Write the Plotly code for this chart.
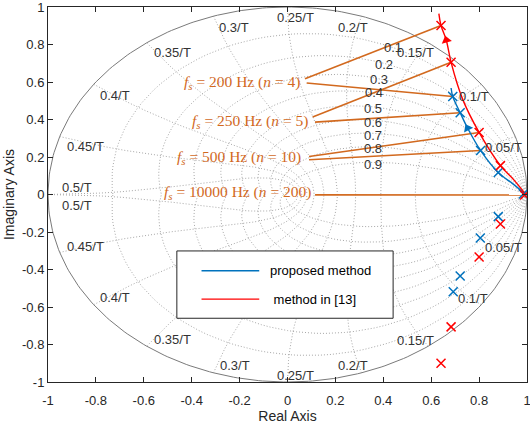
import numpy as np
import plotly.graph_objects as go

# ---------------- data ----------------
# pole markers (proposed method, blue) : n = 4, 5, 10, ..., 200 and conjugates
prop_re = [0.690, 0.721, 0.806, 0.880, 0.985, 0.880, 0.805, 0.721, 0.692]
prop_im = [0.523, 0.436, 0.235, 0.117, 0.003, -0.118, -0.232, -0.435, -0.519]
# pole markers (method in [13], red)
ref_re = [0.641, 0.683, 0.800, 0.889, 0.990, 0.889, 0.800, 0.683, 0.641]
ref_im = [0.901, 0.705, 0.331, 0.154, -0.003, -0.157, -0.333, -0.706, -0.900]

# locus curves (upper half)
prop_locus_re = [0.995, 0.940, 0.880, 0.806, 0.752, 0.721, 0.690, 0.683]
prop_locus_im = [0.000, 0.058, 0.117, 0.235, 0.354, 0.436, 0.523, 0.568]
ref_locus_re = [0.995, 0.945, 0.889, 0.800, 0.732, 0.683, 0.663, 0.641, 0.632]
ref_locus_im = [0.000, 0.078, 0.154, 0.331, 0.506, 0.705, 0.823, 0.901, 0.965]

# direction arrows on the loci
arrow_prop = (0.752, 0.354, -28)
arrow_ref = (0.663, 0.823, -14)

# z-plane grid (zgrid) parameters
zeta_vals = [0.1, 0.2, 0.3, 0.4, 0.5, 0.6, 0.7, 0.8, 0.9]
wn_fracs = [0.05, 0.10, 0.15, 0.20, 0.25, 0.30, 0.35, 0.40, 0.45, 0.50]

# zgrid label positions
zeta_lbl_x = [0.394, 0.357, 0.337, 0.316, 0.311, 0.311, 0.311, 0.311, 0.311]
zeta_lbl_y = [0.784, 0.693, 0.612, 0.543, 0.457, 0.383, 0.313, 0.244, 0.158]
wn_lbl_up_x = [0.817, 0.707, 0.450, 0.202, -0.052, -0.296, -0.566, -0.792, -0.930, -0.951]
wn_lbl_up_y = [0.249, 0.522, 0.757, 0.890, 0.944, 0.890, 0.757, 0.527, 0.254, 0.040]
wn_lbl_lo_x = [0.817, 0.705, 0.450, 0.203, -0.052, -0.291, -0.566, -0.792, -0.930, -0.951]
wn_lbl_lo_y = [-0.280, -0.553, -0.777, -0.910, -0.964, -0.910, -0.772, -0.547, -0.275, -0.061]

# sampling-rate annotations
fs_labels = [
    "<i>f</i><sub><i>s</i></sub> = 200 Hz (<i>n</i> = 4)",
    "<i>f</i><sub><i>s</i></sub> = 250 Hz (<i>n</i> = 5)",
    "<i>f</i><sub><i>s</i></sub> = 500 Hz (<i>n</i> = 10)",
    "<i>f</i><sub><i>s</i></sub> = 10000 Hz (<i>n</i> = 200)",
]
fs_text_x = [0.061, 0.094, 0.065, 0.107]
fs_text_y = [0.596, 0.388, 0.196, 0.012]
fs_pole_idx = [0, 1, 2, 4]
lead_ref_x0 = [0.073, 0.105, 0.090, 0.115]
lead_ref_y0 = [0.618, 0.413, 0.203, -0.002]
lead_prop_x0 = [0.080, 0.115, 0.090, 0.115]
lead_prop_y0 = [0.595, 0.386, 0.185, -0.002]

x_ticks = [-1, -0.8, -0.6, -0.4, -0.2, 0, 0.2, 0.4, 0.6, 0.8, 1]
y_ticks = [-1, -0.8, -0.6, -0.4, -0.2, 0, 0.2, 0.4, 0.6, 0.8, 1]

BLUE = "#0072BD"
RED = "#FF0000"
ORANGE = "#D2691E"
GRID = "#a8a8a8"

def fmt(v):
    return "%g" % v

fig = go.Figure()

# ---------------- zgrid dotted curves ----------------
gx, gy = [], []
theta = np.linspace(0, np.pi, 61)
for z in zeta_vals:
    m = z / np.sqrt(1 - z * z)
    zz = np.exp(theta * (-m + 1j))
    for c in (zz, np.conj(zz)):
        gx += list(c.real) + [None]
        gy += list(c.imag) + [None]
phi = np.linspace(np.pi / 2, np.pi, 41)
for f in wn_fracs:
    wnT = 2 * np.pi * f
    zz = np.exp(wnT * np.exp(1j * phi))
    for c in (zz, np.conj(zz)):
        gx += list(c.real) + [None]
        gy += list(c.imag) + [None]
fig.add_trace(go.Scatter(x=gx, y=gy, mode="lines", hoverinfo="skip",
                         line=dict(color=GRID, width=1, dash="1px,2px")))

# unit circle
tc = np.linspace(0, 2 * np.pi, 361)
fig.add_trace(go.Scatter(x=np.cos(tc), y=np.sin(tc), mode="lines", hoverinfo="skip",
                         line=dict(color="#7a7a7a", width=1)))

# ---------------- leader lines ----------------
lx, ly = [], []
for i, k in enumerate(fs_pole_idx):
    lx += [lead_ref_x0[i], ref_re[k], None]
    ly += [lead_ref_y0[i], ref_im[k], None]
    if i < 3:
        lx += [lead_prop_x0[i], prop_re[k], None]
        ly += [lead_prop_y0[i], prop_im[k], None]
fig.add_trace(go.Scatter(x=lx, y=ly, mode="lines", hoverinfo="skip",
                         line=dict(color=ORANGE, width=1.6)))

# ---------------- loci ----------------
fig.add_trace(go.Scatter(x=prop_locus_re, y=prop_locus_im, mode="lines",
                         line=dict(color=BLUE, width=1.4, shape="spline"), name="proposed method"))
fig.add_trace(go.Scatter(x=ref_locus_re, y=ref_locus_im, mode="lines",
                         line=dict(color=RED, width=1.4, shape="spline"), name="method in [13]"))
fig.add_trace(go.Scatter(x=[arrow_prop[0]], y=[arrow_prop[1]], mode="markers", hoverinfo="skip",
                         marker=dict(symbol="triangle-up", size=9, color=BLUE, angle=arrow_prop[2])))
fig.add_trace(go.Scatter(x=[arrow_ref[0]], y=[arrow_ref[1]], mode="markers", hoverinfo="skip",
                         marker=dict(symbol="triangle-up", size=9, color=RED, angle=arrow_ref[2])))

# ---------------- pole markers ----------------
fig.add_trace(go.Scatter(x=prop_re, y=prop_im, mode="markers",
                         marker=dict(symbol="x-thin", size=9, line=dict(color=BLUE, width=1.5))))
fig.add_trace(go.Scatter(x=ref_re, y=ref_im, mode="markers",
                         marker=dict(symbol="x-thin", size=9, line=dict(color=RED, width=1.5))))

ann = []
lblfont = dict(family="Liberation Sans, Arial", size=13, color="#333333")
for i, z in enumerate(zeta_vals):
    ann.append(dict(x=zeta_lbl_x[i], y=zeta_lbl_y[i], text=fmt(z), showarrow=False,
                    xanchor="left", yanchor="middle", font=lblfont))
for i, f in enumerate(wn_fracs):
    t = fmt(f) + "/T"
    ann.append(dict(x=wn_lbl_up_x[i], y=wn_lbl_up_y[i], text=t, showarrow=False,
                    xanchor="left", yanchor="middle", font=lblfont))
    ann.append(dict(x=wn_lbl_lo_x[i], y=wn_lbl_lo_y[i], text=t, showarrow=False,
                    xanchor="left", yanchor="middle", font=lblfont))
for i, t in enumerate(fs_labels):
    ann.append(dict(x=fs_text_x[i], y=fs_text_y[i], text=t, showarrow=False,
                    xanchor="right", yanchor="middle",
                    font=dict(family="Liberation Serif, Times New Roman", size=15.5, color=ORANGE)))

# ---------------- hand-drawn legend ----------------
shapes = [dict(type="rect", xref="x", yref="y", x0=-0.462, x1=0.441, y0=-0.660, y1=-0.301,
               fillcolor="white", line=dict(color="#262626", width=1), layer="above")]
leg_items = [("proposed method", BLUE, -0.407, -0.083), (" method in [13]", RED, -0.558, -0.083)]
for txt, col, yy, tx in leg_items:
    shapes.append(dict(type="line", xref="x", yref="y", x0=-0.359, x1=-0.118, y0=yy, y1=yy,
                       line=dict(color=col, width=1.4), layer="above"))
    ann.append(dict(x=tx, y=yy, text=txt, showarrow=False, xanchor="left", yanchor="middle",
                    font=dict(family="Liberation Sans, Arial", size=13, color="black")))

fig.update_layout(
    width=530, height=426,
    margin=dict(l=48, r=3, t=7, b=44),
    plot_bgcolor="white", paper_bgcolor="white",
    showlegend=False,
    font=dict(family="Liberation Sans, Arial", size=13, color="#262626"),
    annotations=ann, shapes=shapes,
)
axcommon = dict(range=[-1, 1], ticks="inside", ticklen=5, tickcolor="#262626",
                showline=True, linecolor="#262626", linewidth=1, mirror="ticks",
                showgrid=False, zeroline=False, automargin=False,
                ticklabeloverflow="allow")
fig.update_xaxes(**axcommon, tickvals=x_ticks, ticktext=[fmt(v) for v in x_ticks],
                 ticklabelstandoff=6,
                 title=dict(text="Real Axis", font=dict(size=14), standoff=4))
fig.update_yaxes(**axcommon, tickvals=y_ticks, ticktext=[fmt(v) for v in y_ticks],
                 title=dict(text="Imaginary Axis", font=dict(size=14), standoff=4))

fig.write_html("out.html")
